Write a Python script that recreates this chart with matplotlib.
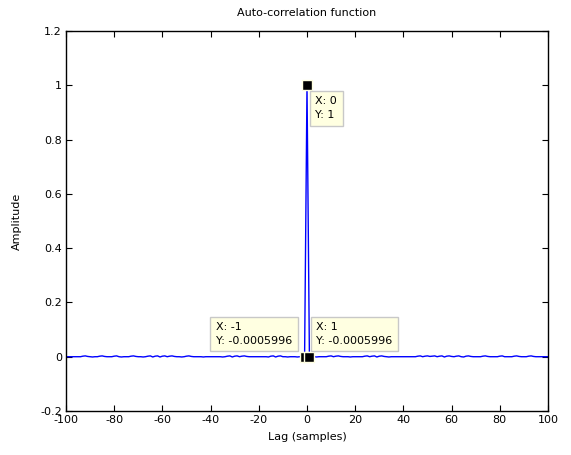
import numpy as np
import matplotlib
matplotlib.use('Agg')
import matplotlib.pyplot as plt

plt.rcParams['font.family'] = 'DejaVu Sans'
plt.rcParams['axes.unicode_minus'] = False

# auto-correlation values, lag -100 .. 100
left_vals = [
    0, 0, 0, 0, 0, 0, 0, 0.002, 0.003, 0.001,
    0, -0.001, 0, 0, 0.002, 0.003, 0.001, 0, 0, 0,
    0.002, 0.003, 0, -0.001, 0, 0, 0, 0.002, 0.003, 0.001,
    0, 0, -0.001, 0, 0.002, 0.003, -0.001, 0.002, 0.003, -0.001,
    0.002, 0.003, 0, 0.002, 0.003, 0.001, 0, 0, -0.001, 0,
    0.002, 0.003, 0.001, 0, 0, 0, 0, -0.001, 0, 0,
    0, 0, 0, 0, 0, -0.001, 0, 0.002, 0.003, -0.001,
    0.002, 0.003, 0, 0.002, 0.003, 0.001, 0, 0, 0, 0,
    0, 0, 0, 0, -0.001, 0.002, 0.003, -0.001, 0.002, 0.003,
    0, 0, -0.001, 0, 0, 0, -0.001, 0, 0,
]
center_vals = [-0.0005996, 1, -0.0005996]
right_vals = [
    0, 0, -0.001, 0, 0, 0, 0, 0.002, 0.003, 0,
    0.002, 0.003, 0.001, 0, 0, 0, -0.001, 0, 0, 0,
    0, 0, 0.002, 0.003, 0, 0.002, 0.003, -0.001, 0.002, 0.003,
    0.001, 0, -0.001, 0, 0, 0, 0, 0, 0, 0,
    0, 0, 0, 0, 0.002, 0.003, 0, 0.002, 0.003, 0.001,
    0.002, 0.003, 0, 0.002, 0.003, -0.001, 0.002, 0.003, 0.001, 0,
    0.002, 0.003, 0, -0.001, 0.002, 0.003, 0.001, 0, 0, 0,
    0, 0.002, 0.003, 0.001, 0, 0, 0, 0, 0.002, 0.003,
    0, 0, 0, 0, 0.002, 0.003, 0.001, 0, 0, 0,
    0.002, 0.003, 0.001, 0, 0, 0, 0, 0, 0,
]
values = left_vals + center_vals + right_vals
lags = np.arange(-100, 101)

# data cursor points
cursor_x = [0, -1, 1]
cursor_y = [1, -0.0005996, -0.0005996]
cursor_text = ['X: 0\nY: 1', 'X: -1\nY: -0.0005996', 'X: 1\nY: -0.0005996']

xticks = list(range(-100, 101, 20))
yticks = [-0.2, 0, 0.2, 0.4, 0.6, 0.8, 1, 1.2]
ytick_labels = ['-0.2', '0', '0.2', '0.4', '0.6', '0.8', '1', '1.2']

fig = plt.figure(figsize=(5.71, 4.55), dpi=100)
ax = fig.add_axes([0.1156, 0.0967, 0.8441, 0.8352])

ax.plot(lags, values, color='#0000ff', lw=1.0)
ax.plot(cursor_x, cursor_y, 's', color='black', ms=6.5,
        mec='#ffffe1', mew=1.0, zorder=5)

box = dict(boxstyle='square,pad=0.5', fc='#ffffe1', ec='#c8c8c8', lw=1)
offsets = [((6, -8), 'left', 'top'),
           ((-9, 8), 'right', 'bottom'),
           ((5, 8), 'left', 'bottom')]
for x, y, txt, (off, ha, va) in zip(cursor_x, cursor_y, cursor_text, offsets):
    ax.annotate(txt, xy=(x, y), xytext=off, textcoords='offset points',
                ha=ha, va=va, multialignment='left', fontsize=8,
                linespacing=1.45, bbox=box, zorder=6)

ax.set_xlim(-100, 100)
ax.set_ylim(-0.2, 1.2)
ax.set_xticks(xticks)
ax.set_xticklabels([str(t) for t in xticks])
ax.set_yticks(yticks)
ax.set_yticklabels(ytick_labels)
ax.tick_params(direction='in', top=True, right=True, length=4,
               labelsize=8, pad=3)
for s in ax.spines.values():
    s.set_linewidth(1.0)

ax.set_title('Auto-correlation function', fontsize=8, pad=11)
ax.set_xlabel('Lag (samples)', fontsize=8, labelpad=5)
ax.set_ylabel('Amplitude', fontsize=8, labelpad=13)

fig.savefig('out.png', dpi=100)
